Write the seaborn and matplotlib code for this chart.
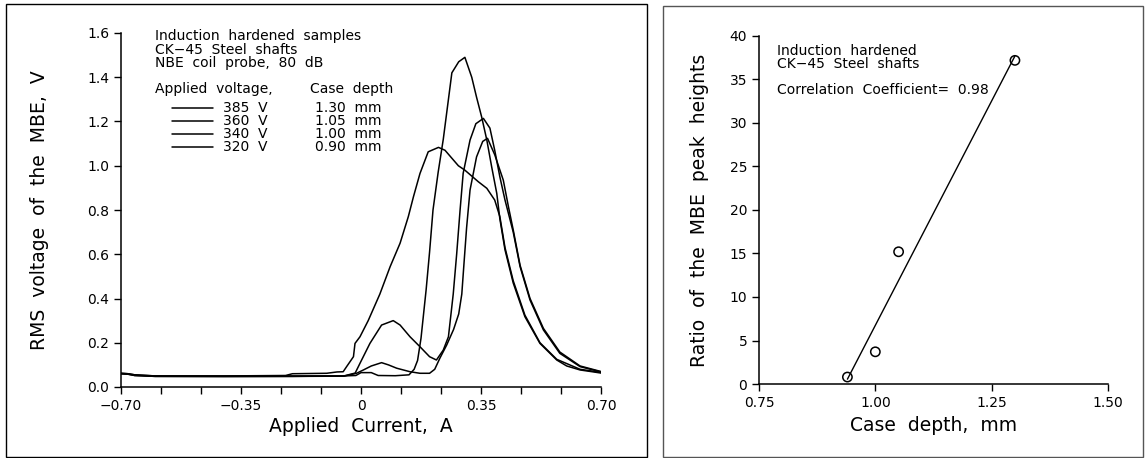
import matplotlib
matplotlib.use("Agg")
import matplotlib.pyplot as plt
from matplotlib.patches import Rectangle
import seaborn as sns
import pandas as pd
import numpy as np

# MBE curves, applied current (A) vs RMS voltage (V)
x_385 = [-0.70, -0.68, -0.66, -0.60, -0.40, -0.20, -0.05, -0.015, 0.0, 0.03, 0.05, 0.10, 0.14, 0.155, 0.165,
         0.175, 0.19, 0.20, 0.21, 0.225, 0.24, 0.255, 0.265, 0.285, 0.303, 0.323, 0.337, 0.352, 0.367, 0.381,
         0.396, 0.405, 0.42, 0.444, 0.478, 0.522, 0.571, 0.60, 0.639, 0.67, 0.70]
y_385 = [0.062, 0.060, 0.055, 0.050, 0.049, 0.050, 0.050, 0.052, 0.065, 0.065, 0.052, 0.051, 0.055, 0.08, 0.12,
         0.22, 0.44, 0.61, 0.80, 0.97, 1.12, 1.30, 1.42, 1.47, 1.49, 1.40, 1.31, 1.22, 1.116, 0.996,
         0.875, 0.76, 0.62, 0.47, 0.318, 0.197, 0.122, 0.095, 0.077, 0.070, 0.063]

x_360 = [-0.70, -0.68, -0.66, -0.60, -0.40, -0.20, -0.05, -0.013, 0.007, 0.03, 0.06, 0.08, 0.104, 0.143, 0.172,
         0.20, 0.215, 0.23, 0.25, 0.27, 0.285, 0.294, 0.30, 0.308, 0.318, 0.337, 0.355, 0.369, 0.39, 0.415,
         0.43, 0.444, 0.464, 0.493, 0.532, 0.58, 0.639, 0.70]
y_360 = [0.060, 0.058, 0.052, 0.048, 0.047, 0.048, 0.049, 0.062, 0.077, 0.095, 0.11, 0.10, 0.085, 0.069, 0.062,
         0.062, 0.08, 0.13, 0.19, 0.26, 0.33, 0.42, 0.55, 0.72, 0.89, 1.04, 1.11, 1.124, 1.05, 0.935,
         0.815, 0.71, 0.55, 0.40, 0.265, 0.158, 0.095, 0.070]

x_340 = [-0.70, -0.68, -0.66, -0.60, -0.40, -0.20, -0.05, -0.017, -0.003, 0.026, 0.06, 0.094, 0.114, 0.143,
         0.172, 0.20, 0.22, 0.24, 0.255, 0.269, 0.279, 0.289, 0.298, 0.318, 0.335, 0.357, 0.376, 0.39, 0.405,
         0.42, 0.444, 0.464, 0.493, 0.532, 0.58, 0.639, 0.70]
y_340 = [0.060, 0.058, 0.052, 0.048, 0.048, 0.048, 0.050, 0.063, 0.107, 0.197, 0.28, 0.30, 0.28, 0.227,
         0.182, 0.137, 0.122, 0.167, 0.227, 0.42, 0.60, 0.80, 0.966, 1.116, 1.19, 1.214, 1.17, 1.07, 0.95,
         0.845, 0.70, 0.544, 0.393, 0.258, 0.152, 0.092, 0.068]

x_320 = [-0.70, -0.68, -0.66, -0.60, -0.40, -0.22, -0.20, -0.10, -0.07, -0.052, -0.042, -0.022, -0.0175, -0.003,
         0.021, 0.055, 0.085, 0.114, 0.138, 0.153, 0.172, 0.196, 0.226, 0.245, 0.284, 0.303, 0.342, 0.367,
         0.39, 0.405, 0.42, 0.444, 0.478, 0.522, 0.571, 0.639, 0.70]
y_320 = [0.062, 0.060, 0.055, 0.050, 0.050, 0.052, 0.060, 0.062, 0.068, 0.069, 0.092, 0.137, 0.197, 0.227,
         0.30, 0.42, 0.544, 0.65, 0.77, 0.86, 0.965, 1.063, 1.083, 1.07, 1.00, 0.98, 0.928, 0.898,
         0.845, 0.77, 0.63, 0.48, 0.325, 0.20, 0.125, 0.08, 0.066]

voltages = ["385  V", "360  V", "340  V", "320  V"]
depth_labels = ["1.30  mm", "1.05  mm", "1.00  mm", "0.90  mm"]

# peak height ratio vs case depth
case_depth = [0.94, 1.00, 1.05, 1.30]
peak_ratio = [0.8, 3.7, 15.2, 37.2]

sns.set_style("ticks")
plt.rcParams['font.family'] = ['DejaVu Sans']
plt.rcParams['axes.linewidth'] = 1.1
plt.rcParams['text.color'] = 'black'
plt.rcParams['axes.labelcolor'] = 'black'
plt.rcParams['xtick.color'] = 'black'
plt.rcParams['ytick.color'] = 'black'
plt.rcParams['axes.edgecolor'] = 'black'

fig = plt.figure(figsize=(11.45, 4.58), dpi=100)
W, H = 1145.0, 458.0

# panel frames
fig.patches.append(Rectangle((6 / W, 1 / H), 641 / W, 453 / H, transform=fig.transFigure,
                             fill=False, edgecolor='black', linewidth=1.0))
fig.patches.append(Rectangle((663 / W, 1 / H), 480 / W, 451 / H, transform=fig.transFigure,
                             fill=False, edgecolor='#555555', linewidth=1.0))

# ---------------- left panel ----------------
ax1 = fig.add_axes([121 / W, 71 / H, 480 / W, 354 / H])
for xs, ys in [(x_385, y_385), (x_360, y_360), (x_340, y_340), (x_320, y_320)]:
    df = pd.DataFrame({'I': xs, 'V': ys})
    sns.lineplot(data=df, x='I', y='V', ax=ax1, color='black', linewidth=1.1, estimator=None, sort=False)

ax1.set_xlim(-0.70, 0.70)
ax1.set_ylim(0, 1.6)
ax1.set_xticks(np.linspace(-0.70, 0.70, 13), minor=True)
ax1.set_xticks([-0.70, -0.35, 0, 0.35, 0.70])
ax1.set_xticklabels(["\u22120.70", "\u22120.35", "0", "0.35", "0.70"])
ax1.set_yticks(np.arange(0, 1.61, 0.2))
ax1.set_yticklabels(["%.1f" % v for v in np.arange(0, 1.61, 0.2)])
ax1.tick_params(which='both', direction='out', length=5, width=1, labelsize=10)
ax1.set_xlabel("Applied  Current,  A", fontsize=13.5)
ax1.set_ylabel("RMS  voltage  of  the  MBE,  V", fontsize=13.5)
ax1.xaxis.set_label_coords(0.5, -0.085)
ax1.yaxis.set_label_coords(-0.15, 0.5)
sns.despine(ax=ax1)

fs = 10
ax1.text(0.071, 0.992, "Induction  hardened  samples", transform=ax1.transAxes, fontsize=fs, va='center')
ax1.text(0.071, 0.953, "CK\u221245  Steel  shafts", transform=ax1.transAxes, fontsize=fs, va='center')
ax1.text(0.071, 0.915, "NBE  coil  probe,  80  dB", transform=ax1.transAxes, fontsize=fs, va='center')
ax1.text(0.071, 0.842, "Applied  voltage,", transform=ax1.transAxes, fontsize=fs, va='center')
ax1.text(0.394, 0.842, "Case  depth", transform=ax1.transAxes, fontsize=fs, va='center')
for i, (v, d) in enumerate(zip(voltages, depth_labels)):
    yy = 0.788 - i * 0.037
    ax1.plot([0.106, 0.192], [yy, yy], transform=ax1.transAxes, color='black', linewidth=1.1)
    ax1.text(0.2125, yy, v, transform=ax1.transAxes, fontsize=fs, va='center')
    ax1.text(0.404, yy, d, transform=ax1.transAxes, fontsize=fs, va='center')

# ---------------- right panel ----------------
ax2 = fig.add_axes([759 / W, 74 / H, 349 / W, 348 / H])
dfr = pd.DataFrame({'depth': case_depth, 'ratio': peak_ratio})
sns.regplot(data=dfr, x='depth', y='ratio', ax=ax2, ci=None, scatter=False, truncate=True,
            color='black', line_kws={'linewidth': 1.0})
sns.scatterplot(data=dfr, x='depth', y='ratio', ax=ax2, s=45, facecolor='none',
                edgecolor='black', linewidth=1.1, zorder=3)

ax2.set_xlim(0.75, 1.50)
ax2.set_ylim(0, 40)
ax2.set_xticks([0.75, 1.00, 1.25, 1.50])
ax2.set_xticklabels(["0.75", "1.00", "1.25", "1.50"])
ax2.set_yticks(range(0, 41, 5))
ax2.tick_params(direction='out', length=5, width=1, labelsize=10)
ax2.set_xlabel("Case  depth,  mm", fontsize=13.5)
ax2.set_ylabel("Ratio  of  the  MBE  peak  heights", fontsize=13.5)
ax2.xaxis.set_label_coords(0.5, -0.093)
ax2.yaxis.set_label_coords(-0.143, 0.5)
sns.despine(ax=ax2)

ax2.text(0.052, 0.957, "Induction  hardened", transform=ax2.transAxes, fontsize=fs, va='center')
ax2.text(0.052, 0.920, "CK\u221245  Steel  shafts", transform=ax2.transAxes, fontsize=fs, va='center')
ax2.text(0.052, 0.845, "Correlation  Coefficient=  0.98", transform=ax2.transAxes, fontsize=fs, va='center')

fig.savefig("out.png", dpi=100)
